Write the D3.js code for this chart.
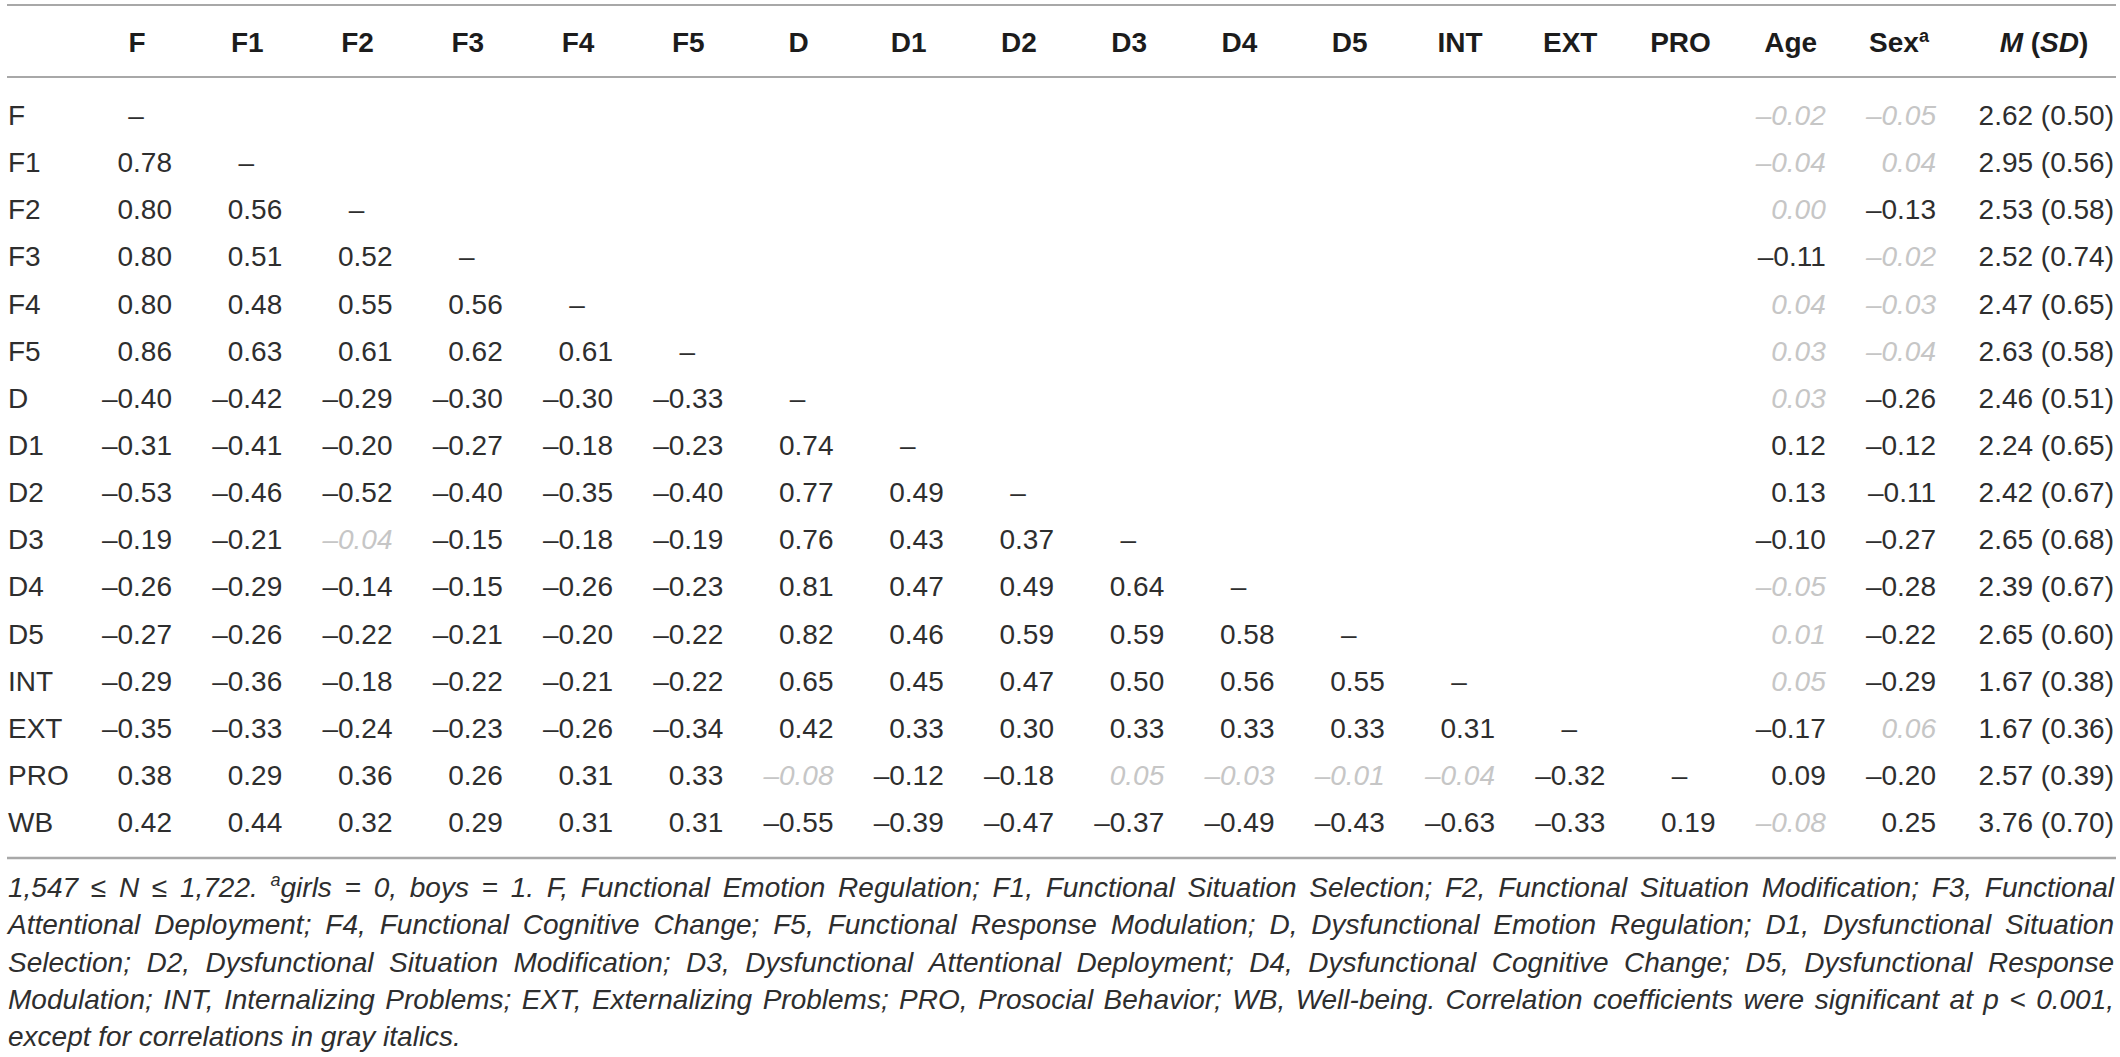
<!DOCTYPE html>
<html>
<head>
<meta charset="utf-8">
<script src="https://cdn.jsdelivr.net/npm/d3@7"></script>
<style>
  body { margin: 0; background: #ffffff; }
  svg text { font-family: "Liberation Sans", Arial, Helvetica, sans-serif; }
</style>
</head>
<body>
<svg id="table"></svg>
<script>
const svgWidth = 2120;
const svgHeight = 1057;
const fontSize = 28;

// variables (rows) and correlation columns
const rowLabels = ["F", "F1", "F2", "F3", "F4", "F5", "D", "D1", "D2", "D3", "D4", "D5", "INT", "EXT", "PRO", "WB"];
const corrCols = ["F", "F1", "F2", "F3", "F4", "F5", "D", "D1", "D2", "D3", "D4", "D5", "INT", "EXT", "PRO"];

// lower triangle, row by row
const corr = [
    [],
    [0.78],
    [0.80, 0.56],
    [0.80, 0.51, 0.52],
    [0.80, 0.48, 0.55, 0.56],
    [0.86, 0.63, 0.61, 0.62, 0.61],
    [-0.40, -0.42, -0.29, -0.30, -0.30, -0.33],
    [-0.31, -0.41, -0.20, -0.27, -0.18, -0.23, 0.74],
    [-0.53, -0.46, -0.52, -0.40, -0.35, -0.40, 0.77, 0.49],
    [-0.19, -0.21, -0.04, -0.15, -0.18, -0.19, 0.76, 0.43, 0.37],
    [-0.26, -0.29, -0.14, -0.15, -0.26, -0.23, 0.81, 0.47, 0.49, 0.64],
    [-0.27, -0.26, -0.22, -0.21, -0.20, -0.22, 0.82, 0.46, 0.59, 0.59, 0.58],
    [-0.29, -0.36, -0.18, -0.22, -0.21, -0.22, 0.65, 0.45, 0.47, 0.50, 0.56, 0.55],
    [-0.35, -0.33, -0.24, -0.23, -0.26, -0.34, 0.42, 0.33, 0.30, 0.33, 0.33, 0.33, 0.31],
    [0.38, 0.29, 0.36, 0.26, 0.31, 0.33, -0.08, -0.12, -0.18, 0.05, -0.03, -0.01, -0.04, -0.32],
    [0.42, 0.44, 0.32, 0.29, 0.31, 0.31, -0.55, -0.39, -0.47, -0.37, -0.49, -0.43, -0.63, -0.33, 0.19]
];
// correlations that were not significant (gray italics)
const corrNs = [["D3", "F2"], ["PRO", "D"], ["PRO", "D3"], ["PRO", "D4"], ["PRO", "D5"], ["PRO", "INT"]];

const ageValues = [-0.02, -0.04, 0.00, -0.11, 0.04, 0.03, 0.03, 0.12, 0.13, -0.10, -0.05, 0.01, 0.05, -0.17, 0.09, -0.08];
const ageNs = [1, 1, 1, 0, 1, 1, 1, 0, 0, 0, 1, 1, 1, 0, 0, 1];
const sexValues = [-0.05, 0.04, -0.13, -0.02, -0.03, -0.04, -0.26, -0.12, -0.11, -0.27, -0.28, -0.22, -0.29, 0.06, -0.20, 0.25];
const sexNs = [1, 1, 0, 1, 1, 1, 0, 0, 0, 0, 0, 0, 0, 1, 0, 0];
const means = [2.62, 2.95, 2.53, 2.52, 2.47, 2.63, 2.46, 2.24, 2.42, 2.65, 2.39, 2.65, 1.67, 1.67, 2.57, 3.76];
const sds = [0.50, 0.56, 0.58, 0.74, 0.65, 0.58, 0.51, 0.65, 0.67, 0.68, 0.67, 0.60, 0.38, 0.36, 0.39, 0.70];

const noteLines = [
    "1,547 \u2264 N \u2264 1,722. ^agirls = 0, boys = 1. F, Functional Emotion Regulation; F1, Functional Situation Selection; F2, Functional Situation Modification; F3, Functional",
    "Attentional Deployment; F4, Functional Cognitive Change; F5, Functional Response Modulation; D, Dysfunctional Emotion Regulation; D1, Dysfunctional Situation",
    "Selection; D2, Dysfunctional Situation Modification; D3, Dysfunctional Attentional Deployment; D4, Dysfunctional Cognitive Change; D5, Dysfunctional Response",
    "Modulation; INT, Internalizing Problems; EXT, Externalizing Problems; PRO, Prosocial Behavior; WB, Well-being. Correlation coefficients were significant at p < 0.001,",
    "except for correlations in gray italics."
];

const ink = "#2e2e2e";
const headInk = "#1c1c1c";
const grayInk = "#c6c6c6";
const ruleColor = "#a8a8a8";

function fmt(v) {
    return (v < 0 ? "\u2013" : "") + Math.abs(v).toFixed(2);
}

var svg = d3.select("#table")
    .attr("width", svgWidth)
    .attr("height", svgHeight);

// right edge of each numeric column
const x = d3.scalePoint()
    .domain(corrCols.concat(["Age", "Sex"]))
    .range([172, 1936]);
const y = d3.scalePoint()
    .domain(rowLabels)
    .range([115, 822]);
const mRight = 2114;
const left = 8;
const headOffset = 35;

// rules
const rules = [{ y: 5, w: 2 }, { y: 77, w: 2 }, { y: 858, w: 2.5 }];
svg.selectAll("line.rule")
    .data(rules)
    .join("line")
    .attr("class", "rule")
    .attr("x1", 7).attr("x2", mRight + 2)
    .attr("y1", d => d.y).attr("y2", d => d.y)
    .attr("stroke", ruleColor)
    .attr("stroke-width", d => d.w);

// header
const header = svg.append("g")
    .attr("font-weight", "bold")
    .attr("font-size", fontSize)
    .attr("fill", headInk);

header.selectAll("text.col")
    .data(corrCols.concat(["Age"]))
    .join("text")
    .attr("class", "col")
    .attr("x", d => x(d) - headOffset)
    .attr("y", 42)
    .attr("dy", "0.36em")
    .attr("text-anchor", "middle")
    .text(d => d);

var sexHead = header.append("text")
    .attr("x", x("Sex") - headOffset - 2)
    .attr("y", 42)
    .attr("dy", "0.36em")
    .attr("text-anchor", "middle");
sexHead.append("tspan").text("Sex");
sexHead.append("tspan").attr("font-size", 18).attr("dy", -10).text("a");

var mHead = header.append("text")
    .attr("x", mRight - 70)
    .attr("y", 42)
    .attr("dy", "0.36em")
    .attr("text-anchor", "middle");
mHead.append("tspan").attr("font-style", "italic").text("M");
mHead.append("tspan").text(" (");
mHead.append("tspan").attr("font-style", "italic").text("SD");
mHead.append("tspan").text(")");

// body cells
var cells = [];
rowLabels.forEach(function(r, i) {
    corr[i].forEach(function(v, j) {
        var c = corrCols[j];
        var ns = corrNs.some(p => p[0] === r && p[1] === c);
        cells.push({ row: r, col: c, text: fmt(v), gray: ns, dash: false });
    });
    if (i < corrCols.length) {
        cells.push({ row: r, col: corrCols[i], text: "\u2013", gray: false, dash: true });
    }
    cells.push({ row: r, col: "Age", text: fmt(ageValues[i]), gray: !!ageNs[i], dash: false });
    cells.push({ row: r, col: "Sex", text: fmt(sexValues[i]), gray: !!sexNs[i], dash: false });
});

var body = svg.append("g").attr("font-size", fontSize);

body.selectAll("text.label")
    .data(rowLabels)
    .join("text")
    .attr("class", "label")
    .attr("x", left)
    .attr("y", d => y(d))
    .attr("dy", "0.36em")
    .attr("fill", ink)
    .text(d => d);

body.selectAll("text.cell")
    .data(cells)
    .join("text")
    .attr("class", "cell")
    .attr("x", d => d.dash ? x(d.col) - 36 : x(d.col))
    .attr("y", d => y(d.row))
    .attr("dy", "0.36em")
    .attr("text-anchor", d => d.dash ? "middle" : "end")
    .attr("fill", d => d.gray ? grayInk : ink)
    .attr("font-style", d => d.gray ? "italic" : null)
    .text(d => d.text);

body.selectAll("text.msd")
    .data(rowLabels)
    .join("text")
    .attr("class", "msd")
    .attr("x", mRight)
    .attr("y", d => y(d))
    .attr("dy", "0.36em")
    .attr("text-anchor", "end")
    .attr("fill", ink)
    .text((d, i) => means[i].toFixed(2) + " (" + sds[i].toFixed(2) + ")");

// footnote, justified word by word
const note = svg.append("g")
    .attr("font-size", fontSize)
    .attr("font-style", "italic")
    .attr("fill", "#2e2e2e");
const noteY = d3.scalePoint().domain(d3.range(noteLines.length)).range([897, 1046]);
const noteLeft = 8, noteRight = mRight;

noteLines.forEach(function(line, li) {
    var words = line.split(" ");
    var nodes = words.map(function(w) {
        var t = note.append("text").attr("y", noteY(li));
        if (w.startsWith("^a")) {
            t.append("tspan").attr("font-size", 18).attr("dy", -11).text("a");
            t.append("tspan").attr("dy", 11).text(w.slice(2));
        } else {
            t.text(w);
        }
        return t;
    });
    var widths = nodes.map(n => n.node().getComputedTextLength());
    var total = d3.sum(widths);
    var last = li === noteLines.length - 1;
    var gap = last ? fontSize * 0.278 : (noteRight - noteLeft - total) / (words.length - 1);
    var cx = noteLeft;
    nodes.forEach(function(n, k) {
        n.attr("x", cx);
        cx += widths[k] + gap;
    });
});
</script>
</body>
</html>
